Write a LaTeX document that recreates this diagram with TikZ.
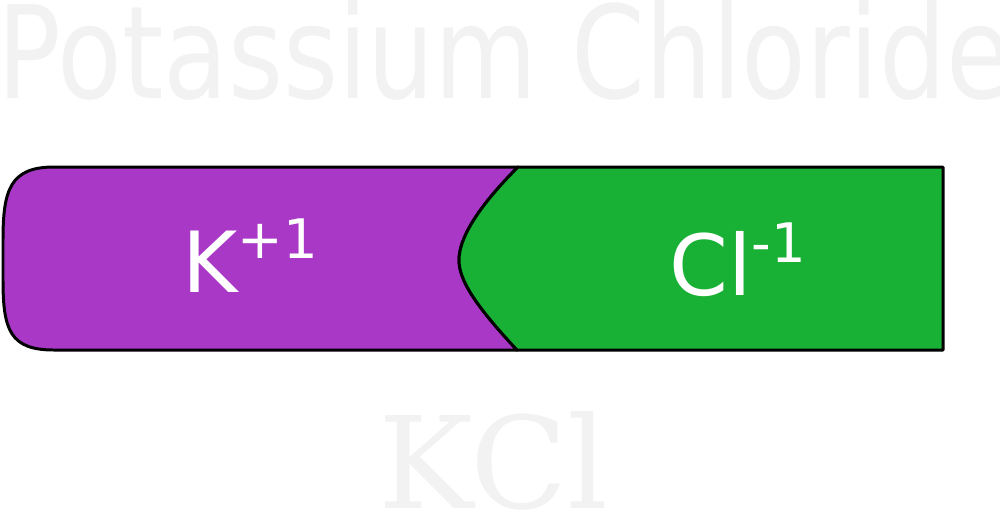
\documentclass[tikz,border=0pt]{standalone}
\usepackage{fontspec}
\setmainfont{DejaVu Sans}
\newfontfamily\formulafont{DejaVu Serif}

\definecolor{viola}{HTML}{A938C7}
\definecolor{verde}{HTML}{19B036}
\definecolor{grigio}{HTML}{F2F2F2}

\tikzset{
  bordo/.style={draw=black, line width=1.7pt, line join=round},
  ione/.style={anchor=base west, inner sep=0pt, text=white, font=\fontsize{48}{52}\selectfont},
  sfondo/.style={anchor=base west, inner sep=0pt, text=grigio}
}

\begin{document}
\begin{tikzpicture}[x=0.02cm, y=-0.02cm]

        % 0. Fissa i margini dell'immagine
        \useasboundingbox (0,0) rectangle (1000,515);

        % 1. Scritta grande in alto
        \node[sfondo, xscale=0.82, font=\fontsize{73.4}{80}\selectfont] (titolo) at (-3,98) {Potassium Chloride};

        % 2. Parte viola (potassio) con il lato sinistro arrotondato
        \draw[bordo, fill=viola] (54,167) -- (518,167)
            .. controls (475,210) and (459,240) .. (459,260)
            .. controls (459,280) and (475,305) .. (517,350)
            -- (54,350) .. controls (10,350) and (3,330) .. (3,280)
            -- (3,240) .. controls (3,190) and (10,167) .. (54,167) -- cycle;

        % 3. Parte verde (cloro) incastrata nella curva
        \draw[bordo, fill=verde] (518,167) -- (943,167) -- (943,350) -- (517,350)
            .. controls (475,305) and (459,280) .. (459,260)
            .. controls (459,240) and (475,210) .. (518,167) -- cycle;

        % 4. Simboli degli ioni
        \node[ione] (potassio) at (182,292) {K\raisebox{0.68cm}{\fontsize{31}{34}\selectfont +1}};
        \node[ione] (cloro) at (669,295) {Cl\raisebox{0.66cm}{\fontsize{31}{34}\selectfont -1}};

        % 5. Formula in basso
        \node[sfondo, font=\formulafont\fontsize{72.6}{78}\selectfont] (formula) at (378,508) {KCl};

    \end{tikzpicture}
\end{document}
